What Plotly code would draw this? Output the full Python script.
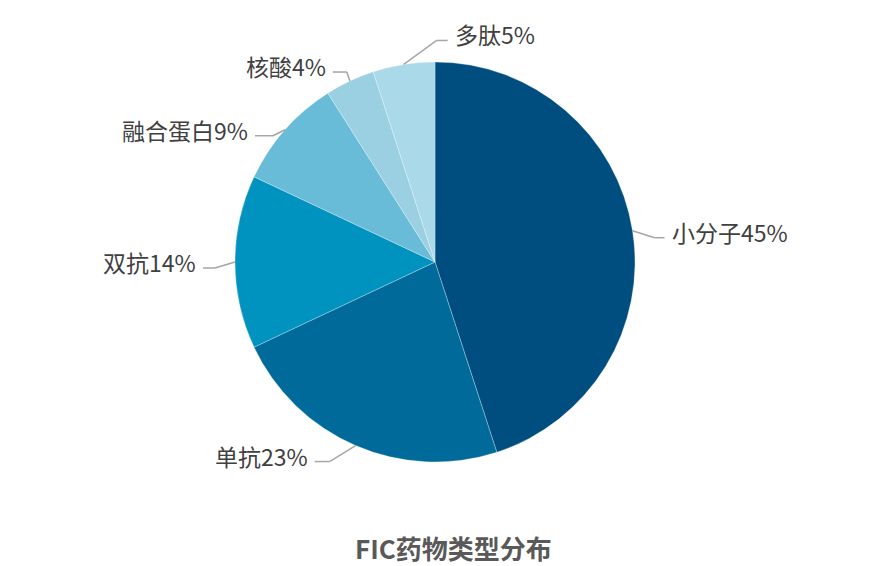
import numpy as np
import plotly.graph_objects as go

# data
labels = ["小分子", "单抗", "双抗", "融合蛋白", "核酸", "多肽"]
values = [45, 23, 14, 9, 4, 5]
colors = ["#004E7F", "#006B9B", "#0093BF", "#69BCD7", "#9BD0E3", "#AADAE9"]

# canvas / pie geometry (screen pixels); page body adds an 8px margin
W, H = 874, 566
OFF = 8
cx, cy, R = 435, 262, 200

# leader line elbow offsets from slice edge, and horizontal run (px)
elbow = [(22, 7), (-26, 16), (-20, 6), (-12, 6), (-3, -9), (33, -24)]
run = [10, -15, -12, -18, -14, 11]


def px(x, y):
    return (x - OFF) / W, 1 - (y - OFF) / H


fig = go.Figure()

x0, y0 = px(cx - R, cy + R)
x1, y1 = px(cx + R, cy - R)
fig.add_trace(go.Pie(
    labels=labels, values=values,
    sort=False, direction="clockwise", rotation=0,
    marker=dict(colors=colors, line=dict(color="rgba(255,255,255,0.4)", width=0.7)),
    textinfo="none", hoverinfo="label+percent",
    domain=dict(x=[x0, x1], y=[y0, y1]),
    showlegend=False,
))

# outside labels with leader lines, placed at each slice's mid angle
total = sum(values)
cum = np.cumsum([0] + values[:-1])
shapes, annotations = [], []
for i, lab in enumerate(labels):
    frac = (cum[i] + values[i] / 2) / total
    ang = 2 * np.pi * frac
    ex, ey = cx + R * np.sin(ang), cy - R * np.cos(ang)
    bx, by = ex + elbow[i][0], ey + elbow[i][1]
    hx = bx + run[i]
    for (p0, q0, p1, q1) in [(ex, ey, bx, by), (bx, by, hx, by)]:
        a0, b0 = px(p0, q0)
        a1, b1 = px(p1, q1)
        shapes.append(dict(type="line", xref="paper", yref="paper",
                           x0=a0, y0=b0, x1=a1, y1=b1,
                           line=dict(color="#A6A6A6", width=1.5)))
    right = run[i] > 0
    tx, ty = px(hx + (5 if right else -5), by - 6)
    annotations.append(dict(
        x=tx, y=ty, xref="paper", yref="paper",
        text=f"{lab}{values[i]}%", showarrow=False,
        xanchor="left" if right else "right", yanchor="middle",
        font=dict(size=23, color="#404040", family="Noto Sans CJK SC"),
    ))

tx, ty = px(453, 547)
annotations.append(dict(
    x=tx, y=ty, xref="paper", yref="paper", text="<b>FIC药物类型分布</b>",
    showarrow=False, xanchor="center", yanchor="middle",
    font=dict(size=26, color="#595959", family="Noto Sans CJK SC"),
))

fig.update_layout(
    width=W, height=H,
    margin=dict(l=0, r=0, t=0, b=0),
    paper_bgcolor="white", plot_bgcolor="white",
    shapes=shapes, annotations=annotations,
)

fig.write_html("out.html")
